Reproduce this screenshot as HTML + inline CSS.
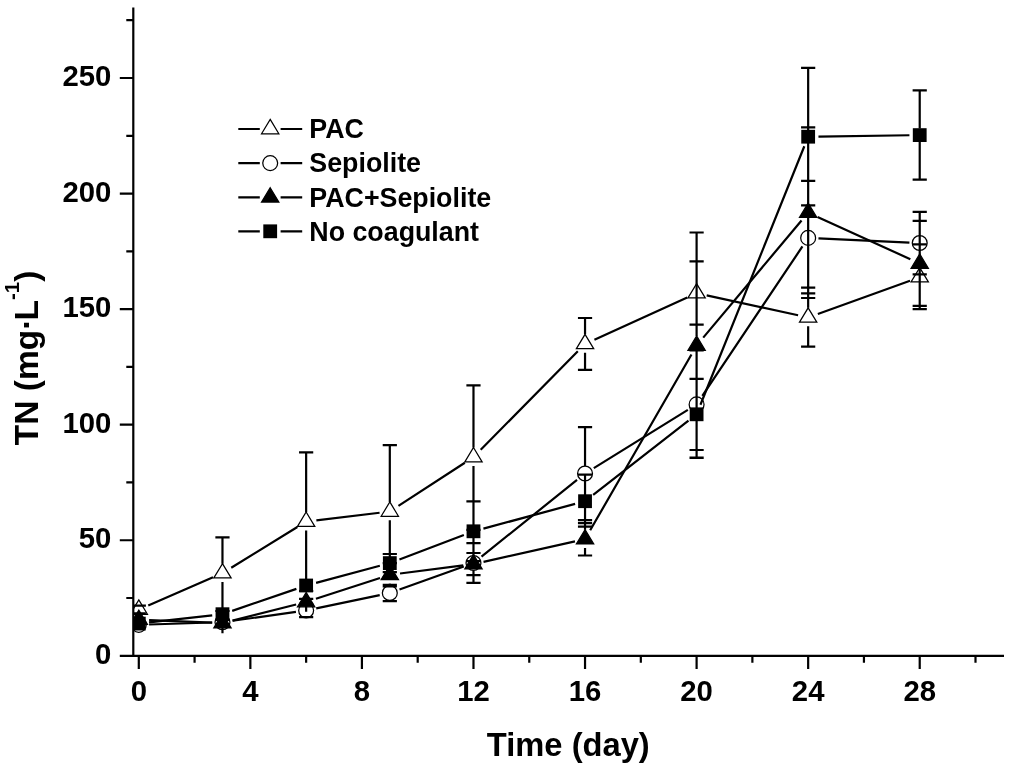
<!DOCTYPE html>
<html lang="en">
<head>
<meta charset="utf-8">
<title>TN over time</title>
<style>
html,body{margin:0;padding:0;background:#fff;}
body{width:1024px;height:770px;overflow:hidden;font-family:"Liberation Sans",Arial,sans-serif;}
svg{display:block;will-change:transform;}
</style>
</head>
<body>
<svg width="1024" height="770" viewBox="0 0 1024 770">
<rect width="1024" height="770" fill="#fff"/>
<defs><clipPath id="pc"><rect x="133.3" y="0" width="890.7" height="655.8"/></clipPath></defs>
<g clip-path="url(#pc)">
<path d="M148.25 605.40L213.02 577.30M231.24 567.79L297.37 527.01M316.37 520.37L379.58 512.73M398.45 505.89L464.84 462.71M480.71 449.76L577.81 351.24M594.42 339.64L687.22 297.46M706.67 295.38L798.09 315.22M817.85 313.91L910.03 280.69" fill="none" stroke="#000" stroke-width="2.2"/>
<polygon points="138.80,599.93 147.45,614.28 130.15,614.28" fill="none" stroke="#000" stroke-width="1.25" stroke-linejoin="miter"/>
<polygon points="222.47,563.63 231.12,577.98 213.82,577.98" fill="none" stroke="#000" stroke-width="1.25" stroke-linejoin="miter"/>
<polygon points="306.14,512.03 314.79,526.38 297.49,526.38" fill="none" stroke="#000" stroke-width="1.25" stroke-linejoin="miter"/>
<polygon points="389.81,501.93 398.46,516.28 381.16,516.28" fill="none" stroke="#000" stroke-width="1.25" stroke-linejoin="miter"/>
<polygon points="473.48,447.53 482.13,461.88 464.83,461.88" fill="none" stroke="#000" stroke-width="1.25" stroke-linejoin="miter"/>
<polygon points="585.04,334.33 593.69,348.68 576.39,348.68" fill="none" stroke="#000" stroke-width="1.25" stroke-linejoin="miter"/>
<polygon points="696.60,283.63 705.25,297.98 687.95,297.98" fill="none" stroke="#000" stroke-width="1.25" stroke-linejoin="miter"/>
<polygon points="808.16,307.83 816.81,322.18 799.51,322.18" fill="none" stroke="#000" stroke-width="1.25" stroke-linejoin="miter"/>
<polygon points="919.72,267.63 928.37,281.98 911.07,281.98" fill="none" stroke="#000" stroke-width="1.25" stroke-linejoin="miter"/>
<path d="M149.10 624.48L212.17 622.52M232.67 620.77L295.94 611.93M316.22 608.39L379.73 595.11M399.51 589.52L463.78 566.48M481.51 556.55L577.01 479.95M593.80 468.08L687.84 409.82M702.33 395.84L802.43 246.46M818.45 238.37L909.43 242.53" fill="none" stroke="#000" stroke-width="2.2"/>
<circle cx="138.80" cy="624.80" r="7.45" fill="none" stroke="#000" stroke-width="1.25"/>
<circle cx="222.47" cy="622.20" r="7.45" fill="none" stroke="#000" stroke-width="1.25"/>
<circle cx="306.14" cy="610.50" r="7.45" fill="none" stroke="#000" stroke-width="1.25"/>
<circle cx="389.81" cy="593.00" r="7.45" fill="none" stroke="#000" stroke-width="1.25"/>
<circle cx="473.48" cy="563.00" r="7.45" fill="none" stroke="#000" stroke-width="1.25"/>
<circle cx="585.04" cy="473.50" r="7.45" fill="none" stroke="#000" stroke-width="1.25"/>
<circle cx="696.60" cy="404.40" r="7.45" fill="none" stroke="#000" stroke-width="1.25"/>
<circle cx="808.16" cy="237.90" r="7.45" fill="none" stroke="#000" stroke-width="1.25"/>
<circle cx="919.72" cy="243.00" r="7.45" fill="none" stroke="#000" stroke-width="1.25"/>
<path d="M149.09 620.12L212.18 622.68M232.46 620.58L296.15 604.52M315.94 598.82L380.01 577.98M400.03 573.49L463.26 565.41M483.53 561.86L574.99 541.44M590.18 530.27L691.46 354.43M703.22 337.61L801.54 220.49M817.53 216.88L910.35 259.22" fill="none" stroke="#000" stroke-width="2.2"/>
<polygon points="138.80,610.13 147.45,624.48 130.15,624.48" fill="#000" stroke="#000" stroke-width="1.25" stroke-linejoin="miter"/>
<polygon points="222.47,613.53 231.12,627.88 213.82,627.88" fill="#000" stroke="#000" stroke-width="1.25" stroke-linejoin="miter"/>
<polygon points="306.14,592.43 314.79,606.78 297.49,606.78" fill="#000" stroke="#000" stroke-width="1.25" stroke-linejoin="miter"/>
<polygon points="389.81,565.23 398.46,579.58 381.16,579.58" fill="#000" stroke="#000" stroke-width="1.25" stroke-linejoin="miter"/>
<polygon points="473.48,554.53 482.13,568.88 464.83,568.88" fill="#000" stroke="#000" stroke-width="1.25" stroke-linejoin="miter"/>
<polygon points="585.04,529.63 593.69,543.98 576.39,543.98" fill="#000" stroke="#000" stroke-width="1.25" stroke-linejoin="miter"/>
<polygon points="696.60,335.93 705.25,350.28 687.95,350.28" fill="#000" stroke="#000" stroke-width="1.25" stroke-linejoin="miter"/>
<polygon points="808.16,203.03 816.81,217.38 799.51,217.38" fill="#000" stroke="#000" stroke-width="1.25" stroke-linejoin="miter"/>
<polygon points="919.72,253.93 928.37,268.28 911.07,268.28" fill="#000" stroke="#000" stroke-width="1.25" stroke-linejoin="miter"/>
<path d="M149.04 622.45L212.23 615.35M232.21 610.86L296.40 588.84M316.09 582.84L379.86 565.76M399.44 559.44L463.85 534.96M483.42 528.62L575.10 503.88M593.17 494.87L688.47 420.63M700.44 404.74L804.32 146.26M818.46 136.55L909.42 135.25" fill="none" stroke="#000" stroke-width="2.2"/>
<rect x="131.90" y="616.70" width="13.8" height="13.8" fill="#000"/>
<rect x="215.57" y="607.30" width="13.8" height="13.8" fill="#000"/>
<rect x="299.24" y="578.60" width="13.8" height="13.8" fill="#000"/>
<rect x="382.91" y="556.20" width="13.8" height="13.8" fill="#000"/>
<rect x="466.58" y="524.40" width="13.8" height="13.8" fill="#000"/>
<rect x="578.14" y="494.30" width="13.8" height="13.8" fill="#000"/>
<rect x="689.70" y="407.40" width="13.8" height="13.8" fill="#000"/>
<rect x="801.26" y="129.80" width="13.8" height="13.8" fill="#000"/>
<rect x="912.82" y="128.20" width="13.8" height="13.8" fill="#000"/>
<path d="M222.47 537.40L222.47 563.63M222.47 582.00L222.47 611.00M222.47 626.00L222.47 633.20M306.14 452.40L306.14 512.03M306.14 530.40L306.14 591.00M306.14 605.00L306.14 611.70M389.81 445.20L389.81 501.93M389.81 520.30L389.81 577.40M389.81 583.60L389.81 586.40M389.81 600.60L389.81 601.20M473.48 385.30L473.48 447.53M473.48 465.90L473.48 529.80M473.48 537.80L473.48 561.20M473.48 570.60L473.48 582.90M585.04 318.00L585.04 334.33M585.04 352.70L585.04 369.80M585.04 427.20L585.04 465.90M585.04 474.70L585.04 529.63M585.04 548.00L585.04 555.50M696.60 232.50L696.60 335.93M696.60 350.40L696.60 457.80M808.16 67.90L808.16 307.83M808.16 326.20L808.16 346.70M919.72 90.30L919.72 128.60M919.72 141.60L919.72 179.70M919.72 211.90L919.72 309.20M131.70 605.70L145.90 605.70M131.70 613.30L145.90 613.30M215.37 537.40L229.57 537.40M215.37 611.00L229.57 611.00M299.04 452.40L313.24 452.40M299.04 591.00L313.24 591.00M382.71 445.20L396.91 445.20M382.71 577.40L396.91 577.40M466.38 385.30L480.58 385.30M466.38 529.80L480.58 529.80M577.94 318.00L592.14 318.00M577.94 369.80L592.14 369.80M689.50 261.40L703.70 261.40M689.50 324.60L703.70 324.60M801.06 287.60L815.26 287.60M801.06 346.70L815.26 346.70M912.62 244.30L926.82 244.30M912.62 309.20L926.82 309.20M299.04 603.80L313.24 603.80M299.04 617.20L313.24 617.20M382.71 584.80L396.91 584.80M382.71 601.20L396.91 601.20M466.38 543.20L480.58 543.20M466.38 582.90L480.58 582.90M577.94 427.20L592.14 427.20M577.94 520.10L592.14 520.10M689.50 350.40L703.70 350.40M689.50 457.80L703.70 457.80M801.06 180.90L815.26 180.90M801.06 293.40L815.26 293.40M912.62 211.90L926.82 211.90M912.62 274.40L926.82 274.40M299.04 598.90L313.24 598.90M299.04 605.10L313.24 605.10M382.71 563.20L396.91 563.20M382.71 586.40L396.91 586.40M466.38 553.00L480.58 553.00M466.38 575.10L480.58 575.10M577.94 523.20L592.14 523.20M577.94 555.50L592.14 555.50M689.50 232.50L703.70 232.50M689.50 457.60L703.70 457.60M801.06 127.30L815.26 127.30M801.06 298.00L815.26 298.00M912.62 220.90L926.82 220.90M912.62 305.80L926.82 305.80M382.71 554.00L396.91 554.00M382.71 572.20L396.91 572.20M466.38 501.40L480.58 501.40M466.38 561.20L480.58 561.20M577.94 474.70L592.14 474.70M577.94 526.60L592.14 526.60M689.50 378.90L703.70 378.90M689.50 450.00L703.70 450.00M801.06 67.90L815.26 67.90M801.06 205.30L815.26 205.30M912.62 90.30L926.82 90.30M912.62 179.70L926.82 179.70" fill="none" stroke="#000" stroke-width="2.2"/>
</g>
<path d="M133.3 7.5L133.3 656.9M132.20000000000002 655.8L1004.0 655.8M119.80000000000001 655.80L133.3 655.80M126.30000000000001 598.02L133.3 598.02M119.80000000000001 540.24L133.3 540.24M126.30000000000001 482.46L133.3 482.46M119.80000000000001 424.68L133.3 424.68M126.30000000000001 366.90L133.3 366.90M119.80000000000001 309.12L133.3 309.12M126.30000000000001 251.34L133.3 251.34M119.80000000000001 193.56L133.3 193.56M126.30000000000001 135.78L133.3 135.78M119.80000000000001 78.00L133.3 78.00M126.30000000000001 20.22L133.3 20.22M138.80 655.8L138.80 669.0M194.58 655.8L194.58 662.8M250.36 655.8L250.36 669.0M306.14 655.8L306.14 662.8M361.92 655.8L361.92 669.0M417.70 655.8L417.70 662.8M473.48 655.8L473.48 669.0M529.26 655.8L529.26 662.8M585.04 655.8L585.04 669.0M640.82 655.8L640.82 662.8M696.60 655.8L696.60 669.0M752.38 655.8L752.38 662.8M808.16 655.8L808.16 669.0M863.94 655.8L863.94 662.8M919.72 655.8L919.72 669.0M975.50 655.8L975.50 662.8" fill="none" stroke="#000" stroke-width="2.2"/>
<g font-family="Liberation Sans, Arial, sans-serif" font-weight="bold" fill="#000">
<g font-size="29.3" text-anchor="end">
<text x="111.3" y="663.80">0</text>
<text x="111.3" y="548.24">50</text>
<text x="111.3" y="432.68">100</text>
<text x="111.3" y="317.12">150</text>
<text x="111.3" y="201.56">200</text>
<text x="111.3" y="86.00">250</text>
</g>
<g font-size="29.3" text-anchor="middle">
<text x="138.80" y="700.6">0</text>
<text x="250.36" y="700.6">4</text>
<text x="361.92" y="700.6">8</text>
<text x="473.48" y="700.6">12</text>
<text x="585.04" y="700.6">16</text>
<text x="696.60" y="700.6">20</text>
<text x="808.16" y="700.6">24</text>
<text x="919.72" y="700.6">28</text>
</g>
<text x="568.3" y="755.9" font-size="32.7" text-anchor="middle">Time (day)</text>
<text transform="translate(37.6 445.2) rotate(-90)" font-size="33.5">TN (mg·<tspan dx="-1.9">L</tspan><tspan font-size="20.5" dy="-18.4">-1</tspan><tspan dy="18.4">)</tspan></text>
<path d="M238.3 129.0L259.8 129.0M280.6 129.0L302.2 129.0" stroke="#000" stroke-width="2.2" fill="none"/>
<polygon points="270.20,119.43 278.85,133.78 261.55,133.78" fill="none" stroke="#000" stroke-width="1.25" stroke-linejoin="miter"/>
<text x="309.3" y="138.30" font-size="26.8">PAC</text>
<path d="M238.3 163.1L259.8 163.1M280.6 163.1L302.2 163.1" stroke="#000" stroke-width="2.2" fill="none"/>
<circle cx="270.20" cy="163.10" r="7.45" fill="none" stroke="#000" stroke-width="1.25"/>
<text x="309.3" y="172.40" font-size="26.8">Sepiolite</text>
<path d="M238.3 197.3L259.8 197.3M280.6 197.3L302.2 197.3" stroke="#000" stroke-width="2.2" fill="none"/>
<polygon points="270.20,187.73 278.85,202.08 261.55,202.08" fill="#000" stroke="#000" stroke-width="1.25" stroke-linejoin="miter"/>
<text x="309.3" y="206.60" font-size="26.8">PAC+Sepiolite</text>
<path d="M238.3 231.3L259.8 231.3M280.6 231.3L302.2 231.3" stroke="#000" stroke-width="2.2" fill="none"/>
<rect x="263.30" y="224.40" width="13.8" height="13.8" fill="#000"/>
<text x="309.3" y="240.60" font-size="26.8">No coagulant</text>
</g>
</svg>
</body>
</html>
